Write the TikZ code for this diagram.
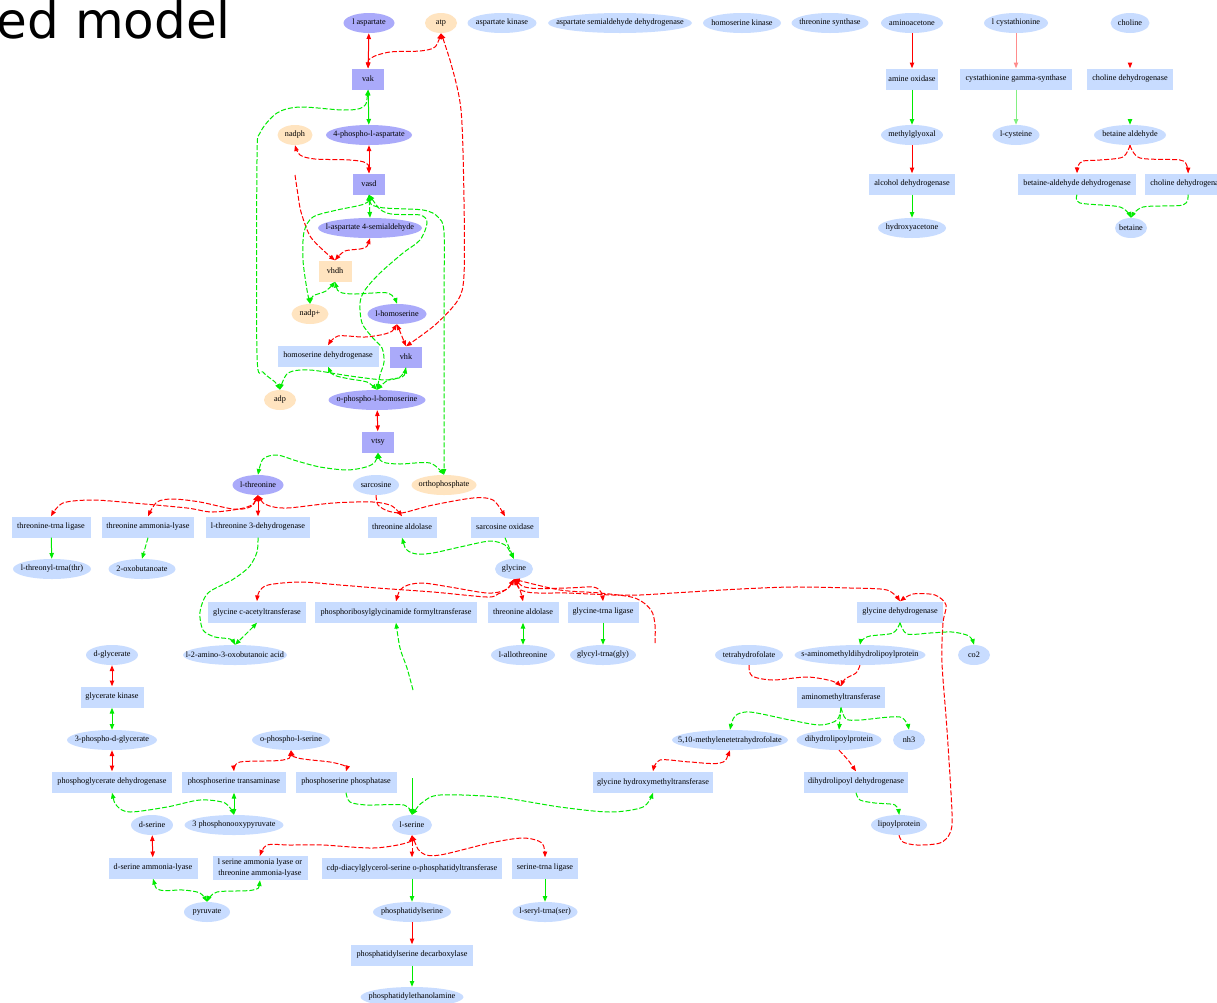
\documentclass[tikz,border=0pt]{standalone}
\usepackage{fontspec}
\setmainfont{Liberation Serif}
\newfontfamily\titlefont{DejaVu Sans}
\usetikzlibrary{shapes.geometric,arrows.meta}
\definecolor{cP}{RGB}{170,170,250}
\definecolor{cO}{RGB}{255,228,192}
\definecolor{cB}{RGB}{200,220,255}
\definecolor{cR}{RGB}{255,0,0}
\definecolor{cG}{RGB}{0,235,0}
\definecolor{cRl}{RGB}{255,140,140}
\definecolor{cGl}{RGB}{130,240,130}
\newcommand\nlab[1]{\makebox[0pt]{#1}}
\begin{document}
\begin{tikzpicture}[x=1pt,y=-1pt,
  nf/.style={font=\fontsize{8.2}{9.5}\selectfont},
  el/.style={nf,ellipse,inner sep=0pt,minimum height=20pt},
  bx/.style={nf,rectangle,inner sep=0pt,minimum height=21pt},
  eP/.style={el,fill=cP,minimum width=#1pt},
  eO/.style={el,fill=cO,minimum width=#1pt},
  eB/.style={el,fill=cB,minimum width=#1pt},
  bP/.style={bx,fill=cP,minimum width=#1pt},
  bO/.style={bx,fill=cO,minimum width=#1pt},
  bB/.style={bx,fill=cB,minimum width=#1pt},
  R/.style={draw=cR,line width=1pt},
  G/.style={draw=cG,line width=1pt},
  ds/.style={dash pattern=on 5pt off 2pt},
  bi/.style={{Triangle[width=4.4pt,length=5.8pt]}-{Triangle[width=4.4pt,length=5.8pt]}},
  fw/.style={-{Triangle[width=4.4pt,length=5.8pt]}},
  sm/.style={smooth,tension=0.5}]
\useasboundingbox (0,0) rectangle (1217,1002);
\fill[white] (0,0) rectangle (1217,1002);
\node[anchor=base east,font=\titlefont\fontsize{50}{52}\selectfont,inner sep=0pt] (title) at (231,38) {ed model};

% ---- purple nodes
\node[eP=51] (laspartate) at (369,23) {\nlab{l aspartate}};
\node[bP=32] (vak) at (368,79) {\nlab{vak}};
\node[eP=86] (phosasp) at (369,135) {\nlab{4-phospho-l-aspartate}};
\node[bP=32] (vasd) at (369,184) {\nlab{vasd}};
\node[eP=104] (semiald) at (370,228) {\nlab{l-aspartate 4-semialdehyde}};
\node[eP=59] (lhomoser) at (397,314) {\nlab{l-homoserine}};
\node[bP=32] (vhk) at (406,357) {\nlab{vhk}};
\node[eP=97] (ophoshs) at (377,400) {\nlab{o-phospho-l-homoserine}};
\node[bP=32] (vtsy) at (378,442) {\nlab{vtsy}};
\node[eP=51] (lthr) at (258,485) {\nlab{l-threonine}};
% ---- orange nodes
\node[eO=32] (atp) at (441,23) {\nlab{atp}};
\node[eO=35] (nadph) at (295,135) {\nlab{nadph}};
\node[bO=33] (vhdh) at (335,271) {\nlab{vhdh}};
\node[eO=37] (nadpp) at (310,314) {\nlab{nadp+}};
\node[eO=32] (adp) at (280,400) {\nlab{adp}};
\node[eO=65] (orthop) at (444,485) {\nlab{orthophosphate}};
% ---- blue ellipses
\node[eB=69] (askin) at (502,23) {\nlab{aspartate kinase}};
\node[eB=144] (asdh) at (620,23) {\nlab{aspartate semialdehyde dehydrogenase}};
\node[eB=78] (hskin) at (742,23) {\nlab{homoserine kinase}};
\node[eB=77] (thrsyn) at (830,23) {\nlab{threonine synthase}};
\node[eB=62] (aminoac) at (912,23) {\nlab{aminoacetone}};
\node[eB=64] (lcysta) at (1016,23) {\nlab{l cystathionine}};
\node[eB=39] (choline) at (1130,23) {\nlab{choline}};
\node[eB=62] (methylg) at (912,135) {\nlab{methylglyoxal}};
\node[eB=47] (lcys) at (1016,135) {\nlab{l-cysteine}};
\node[eB=72] (betald) at (1130,135) {\nlab{betaine aldehyde}};
\node[eB=68] (hydroxya) at (912,228) {\nlab{hydroxyacetone}};
\node[eB=32] (betaine) at (1131,228) {\nlab{betaine}};
\node[eB=46] (sarcosine) at (376,485) {\nlab{sarcosine}};
\node[eB=78] (thrtrna) at (52,569) {\nlab{l-threonyl-trna(thr)}};
\node[eB=67] (oxobut) at (142,569) {\nlab{2-oxobutanoate}};
\node[eB=38] (glycine) at (514,569) {\nlab{glycine}};
\node[eB=104] (amino3) at (235,655) {\nlab{l-2-amino-3-oxobutanoic acid}};
\node[eB=52] (dglyc) at (112,655) {\nlab{d-glycerate}};
\node[eB=64] (allothr) at (523,655) {\nlab{l-allothreonine}};
\node[eB=66] (glytrna) at (603,655) {\nlab{glycyl-trna(gly)}};
\node[eB=68] (thf) at (749,655) {\nlab{tetrahydrofolate}};
\node[eB=131] (samdl) at (860,655) {\nlab{s-aminomethyldihydrolipoylprotein}};
\node[eB=32] (co2) at (974,655) {\nlab{co2}};
\node[eB=90] (p3dg) at (112,740) {\nlab{3-phospho-d-glycerate}};
\node[eB=78] (opser) at (291,740) {\nlab{o-phospho-l-serine}};
\node[eB=116] (mthf) at (730,740) {\nlab{5,10-methylenetetrahydrofolate}};
\node[eB=85] (dhlp) at (839,740) {\nlab{dihydrolipoylprotein}};
\node[eB=32] (nh3) at (909,740) {\nlab{nh3}};
\node[eB=42] (dser) at (152,825) {\nlab{d-serine}};
\node[eB=99] (ppyr) at (234,825) {\nlab{3 phosphonooxypyruvate}};
\node[eB=40] (lser) at (412,825) {\nlab{l-serine}};
\node[eB=56] (lipoyl) at (899,825) {\nlab{lipoylprotein}};
\node[eB=46] (pyruvate) at (207,912) {\nlab{pyruvate}};
\node[eB=78] (ptdser) at (412,912) {\nlab{phosphatidylserine}};
\node[eB=65] (sertrna) at (545,912) {\nlab{l-seryl-trna(ser)}};
\node[eB=103] (ptdeth) at (412,997) {\nlab{phosphatidylethanolamine}};
% ---- blue boxes
\node[bB=52] (amox) at (912,79) {\nlab{amine oxidase}};
\node[bB=112] (cgs) at (1016,79) {\nlab{cystathionine gamma-synthase}};
\node[bB=86] (chdh1) at (1130,79) {\nlab{choline dehydrogenase}};
\node[bB=86] (adh) at (912,184) {\nlab{alcohol dehydrogenase}};
\node[bB=118] (badh) at (1077,184) {\nlab{betaine-aldehyde dehydrogenase}};
\node[bB=86] (chdh2) at (1188,184) {\nlab{choline dehydrogenase}};
\node[bB=101] (hsdh) at (328,356) {\nlab{homoserine dehydrogenase}};
\node[bB=79] (thrlig) at (51,527) {\nlab{threonine-trna ligase}};
\node[bB=92] (thral) at (148,527) {\nlab{threonine ammonia-lyase}};
\node[bB=104] (thrdh) at (258,527) {\nlab{l-threonine 3-dehydrogenase}};
\node[bB=69] (thrald1) at (402,527) {\nlab{threonine aldolase}};
\node[bB=68] (sarox) at (505,527) {\nlab{sarcosine oxidase}};
\node[bB=98] (gcat) at (257,612) {\nlab{glycine c-acetyltransferase}};
\node[bB=162] (gart) at (396,612) {\nlab{phosphoribosylglycinamide formyltransferase}};
\node[bB=71] (thrald2) at (523,612) {\nlab{threonine aldolase}};
\node[bB=71] (glylig) at (603,612) {\nlab{glycine-trna ligase}};
\node[bB=86] (gldc) at (900,612) {\nlab{glycine dehydrogenase}};
\node[bB=63] (glyk) at (112,697) {\nlab{glycerate kinase}};
\node[bB=88] (amt) at (841,697) {\nlab{aminomethyltransferase}};
\node[bB=120] (phgdh) at (112,782) {\nlab{phosphoglycerate dehydrogenase}};
\node[bB=104] (psat) at (234,782) {\nlab{phosphoserine transaminase}};
\node[bB=101] (psp) at (346,782) {\nlab{phosphoserine phosphatase}};
\node[bB=120] (shmt) at (653,782) {\nlab{glycine hydroxymethyltransferase}};
\node[bB=104] (dld) at (856,782) {\nlab{dihydrolipoyl dehydrogenase}};
\node[bB=89] (dsal) at (153,868) {\nlab{d-serine ammonia-lyase}};
\node[bB=95,minimum height=24pt] (lsal) at (260,868) {\nlab{\fontsize{8.2}{11}\selectfont\begin{tabular}{@{}c@{}}l serine ammonia lyase or\\threonine ammonia-lyase\end{tabular}}};
\node[bB=180] (cdp) at (412,868) {\nlab{cdp-diacylglycerol-serine o-phosphatidyltransferase}};
\node[bB=66] (serlig) at (545,868) {\nlab{serine-trna ligase}};
\node[bB=122] (psd) at (412,955) {\nlab{phosphatidylserine decarboxylase}};

% free ends
\coordinate (c1) at (295,175);
\coordinate (c2) at (655,643);
\coordinate (c3) at (413,690);
\coordinate (c4) at (412,778);

% ---- aspartate / threonine branch
\draw[R,bi] (laspartate) -- (vak);
\draw[R,ds,bi] plot[sm] coordinates {(vak.north) (371,58) (390,52) (420,51) (435,47) (atp.south)};
\draw[R,ds,bi] plot[sm] coordinates {(atp.south) (450,60) (461,110) (464,200) (464,275) (458,300) (435,325) (vhk.north)};
\draw[G,bi] (vak) -- (phosasp);
\draw[G,ds,bi] plot[sm] coordinates {(vak.south) (363,107) (343,110) (300,107) (277,113) (260,133) (257,160) (257,355) (263,372) (275,382) (adp.north)};
\draw[R,bi] (phosasp) -- (vasd);
\draw[R,ds,bi] plot[sm] coordinates {(vasd.north) (366,163) (350,160) (315,159) (300,155) (nadph.south)};
\draw[R,ds,fw] plot[sm] coordinates {(c1) (298,195) (301,212) (310,236) (324,251) (vhdh.north)};
\draw[R,ds,bi] plot[sm] coordinates {(semiald.south) (364,248) (345,251) (vhdh.north)};
\draw[G,ds,bi] (vasd.south) -- (semiald.north);
\draw[G,ds,bi] plot[sm] coordinates {(vasd.south) (364,204) (337,210) (313,217) (304,232) (303,260) (307,290) (nadpp.north)};
\draw[G,ds,bi] plot[sm] coordinates {(vasd.south) (378,207) (423,210) (438,217) (444,232) (444,300) (orthop.north)};
\draw[G,ds,bi] plot[sm] coordinates {(vasd.south) (387,213) (420,215) (427,223) (420,240) (403,253) (380,273) (365,290) (360,303) (362,323) (372,337) (382,348) (384,362) (380,375) (ophoshs.north)};
\draw[G,ds,bi] plot[sm] coordinates {(vhdh.south) (340,292) (355,294) (388,293) (lhomoser.north)};
\draw[G,ds,bi] plot[sm] coordinates {(vhdh.south) (326,291) (313,296) (nadpp.north)};
\draw[R,ds,bi] plot[sm] coordinates {(lhomoser.south) (388,333) (365,337) (338,336) (hsdh.north)};
\draw[R,ds,bi] (lhomoser.south) -- (vhk.north);
\draw[G,ds,bi] plot[sm] coordinates {(vhk.south) (402,377) (388,380) (ophoshs.north)};
\draw[G,ds,bi] plot[sm] coordinates {(hsdh.south) (334,375) (350,379) (367,382) (ophoshs.north)};
\draw[G,ds,fw] plot[sm] coordinates {(vhk.south) (400,377) (385,380) (350,376) (310,370) (288,373) (adp.north)};
\draw[R,bi] (ophoshs) -- (vtsy);
\draw[G,ds,bi] plot[sm] coordinates {(vtsy.south) (375,462) (366,467) (347,470) (320,467) (297,461) (277,455) (263,459) (lthr.north)};
\draw[G,ds,bi] plot[sm] coordinates {(vtsy.south) (383,462) (400,464) (430,463) (orthop.north)};

% ---- threonine
\draw[R,bi] (lthr) -- (thrdh);
\draw[R,ds,bi] plot[sm] coordinates {(lthr.south) (247,507) (213,512) (187,508) (133,503) (93,500) (63,503) (thrlig.north)};
\draw[R,ds,bi] plot[sm] coordinates {(lthr.south) (250,507) (233,509) (200,502) (173,499) (157,502) (thral.north)};
\draw[R,ds,bi] plot[sm] coordinates {(lthr.south) (267,505) (287,508) (333,503) (373,502) (392,506) (thrald1.north)};
\draw[R,ds,fw] plot[sm] coordinates {(sarcosine.south) (378,505) (388,511) (401,513) (414,510) (433,505) (473,498) (493,500) (sarox.north)};
\draw[G,fw] (thrlig) -- (thrtrna);
\draw[G,ds,fw] (thral.south) -- (oxobut.north);
\draw[G,ds,fw] plot[sm] coordinates {(thrdh.south) (257,552) (249,567) (232,580) (208,593) (200,612) (203,630) (215,637) (230,639) (amino3.north)};
\draw[G,ds,bi] plot[sm] coordinates {(gcat.south) (250,630) (amino3.north)};
\draw[G,ds,bi] plot[sm] coordinates {(thrald1.south) (407,550) (417,554) (433,553) (460,547) (490,541) (505,545) (510,552) (glycine.north)};
\draw[G,ds,fw] plot[sm] coordinates {(sarox.south) (508,545) (glycine.north)};

% ---- glycine fan
\draw[R,ds,bi] plot[sm] coordinates {(glycine.south) (508,588) (498,594) (487,597) (433,592) (377,588) (340,585) (300,582) (268,585) (259,592) (gcat.north)};
\draw[R,ds,bi] plot[sm] coordinates {(glycine.south) (505,590) (487,593) (450,587) (423,583) (408,585) (400,590) (gart.north)};
\draw[R,ds,bi] plot[sm] coordinates {(glycine.south) (520,590) (thrald2.north)};
\draw[R,ds,bi] plot[sm] coordinates {(glycine.south) (530,588) (567,588) (593,587) (601,592) (glylig.north)};
\draw[R,ds,bi] plot[sm] coordinates {(glycine.south) (527,592) (567,593) (613,595) (640,595) (673,593) (740,589) (793,587) (850,588) (887,590) (gldc.north)};
\draw[R,ds,fw] plot[sm] coordinates {(c2) (655,625) (651,610) (635,598) (600,593) (560,590) (glycine.south)};
\draw[R,ds,fw] plot[sm] coordinates {(lipoyl.south) (903,842) (917,845) (940,843) (950,833) (952,813) (947,730) (942,663) (943,623) (946,605) (935,595) (913,594) (gldc.north)};
\draw[G,bi] (thrald2) -- (allothr);
\draw[G,fw] (glylig) -- (glytrna);
\draw[G,ds,fw] plot[sm] coordinates {(c3) (407,668) (400,648) (gart.south)};
\draw[G,fw] (c4) -- (lser.north);

% ---- glycine cleavage
\draw[G,ds,fw] plot[sm] coordinates {(gldc.south) (893,633) (870,636) (862,640) (samdl.north)};
\draw[G,ds,fw] plot[sm] coordinates {(gldc.south) (907,634) (930,633) (952,632) (969,636) (co2.north)};
\draw[R,ds,fw] plot[sm] coordinates {(thf.south) (752,676) (773,680) (807,677) (832,681) (amt.north)};
\draw[R,ds,fw] plot[sm] coordinates {(samdl.south) (856,673) (845,679) (amt.north)};
\draw[G,ds,fw] plot[sm] coordinates {(amt.south) (837,720) (820,725) (790,720) (750,712) (735,716) (mthf.north)};
\draw[G,ds,fw] (amt.south) -- (dhlp.north);
\draw[G,ds,fw] plot[sm] coordinates {(amt.south) (846,719) (860,720) (900,717) (nh3.north)};
\draw[R,ds,fw] plot[sm] coordinates {(dhlp.south) (848,760) (dld.north)};
\draw[G,ds,fw] plot[sm] coordinates {(dld.south) (860,800) (875,803) (895,805) (lipoyl.north)};
\draw[R,ds,bi] plot[sm] coordinates {(mthf.south) (720,763) (690,762) (660,760) (shmt.north)};
\draw[G,ds,bi] plot[sm] coordinates {(lser.north) (423,802) (440,795) (497,797) (560,807) (610,812) (643,807) (shmt.south)};

% ---- serine
\draw[R,bi] (dglyc) -- (glyk);
\draw[G,bi] (glyk) -- (p3dg);
\draw[R,bi] (p3dg) -- (phgdh);
\draw[G,ds,bi] plot[sm] coordinates {(phgdh.south) (117,806) (130,812) (167,807) (200,800) (225,803) (ppyr.north)};
\draw[G,bi] (psat) -- (ppyr);
\draw[R,ds,bi] plot[sm] coordinates {(opser.south) (283,760) (240,762) (psat.north)};
\draw[R,ds,bi] plot[sm] coordinates {(opser.south) (298,758) (330,762) (345,766) (psp.north)};
\draw[G,ds,fw] plot[sm] coordinates {(psp.south) (350,802) (367,805) (404,805) (lser.north)};
\draw[R,bi] (dser) -- (dsal);
\draw[G,ds,bi] plot[sm] coordinates {(dsal.south) (160,890) (183,890) (200,893) (pyruvate.north)};
\draw[G,ds,bi] plot[sm] coordinates {(lsal.south) (253,890) (217,892) (pyruvate.north)};
\draw[R,ds,bi] plot[sm] coordinates {(lser.south) (406,843) (373,848) (323,845) (290,845) (267,845) (lsal.north)};
\draw[R,ds,bi] (lser.south) -- (cdp.north);
\draw[R,ds,bi] plot[sm] coordinates {(lser.south) (422,853) (440,855) (490,843) (523,838) (542,843) (serlig.north)};
\draw[G,fw] (cdp) -- (ptdser);
\draw[R,fw] (ptdser) -- (psd);
\draw[G,fw] (psd) -- (ptdeth);
\draw[G,fw] (serlig) -- (sertrna);

% ---- right-hand pathways
\draw[R,fw] (aminoac) -- (amox);
\draw[G,fw] (amox) -- (methylg);
\draw[R,fw] (methylg) -- (adh);
\draw[G,fw] (adh) -- (hydroxya);
\draw[draw=cRl,line width=1pt,fw] (lcysta) -- (cgs);
\draw[draw=cGl,line width=1pt,fw] (cgs) -- (lcys);
\draw[R,fw,shorten <=30pt] (choline) -- (chdh1);
\draw[G,fw,shorten <=29pt] (chdh1) -- (betald);
\draw[R,ds,fw] plot[sm] coordinates {(betald.south) (1123,157) (1100,160) (1083,161) (1078,166) (badh.north)};
\draw[R,ds,fw] plot[sm] coordinates {(betald.south) (1140,158) (1180,160) (1187,166) (chdh2.north)};
\draw[G,ds,fw] plot[sm] coordinates {(badh.south) (1080,203) (1120,207) (betaine.north)};
\draw[G,ds,fw] plot[sm] coordinates {(chdh2.south) (1183,205) (1143,207) (betaine.north)};
\end{tikzpicture}
\end{document}
